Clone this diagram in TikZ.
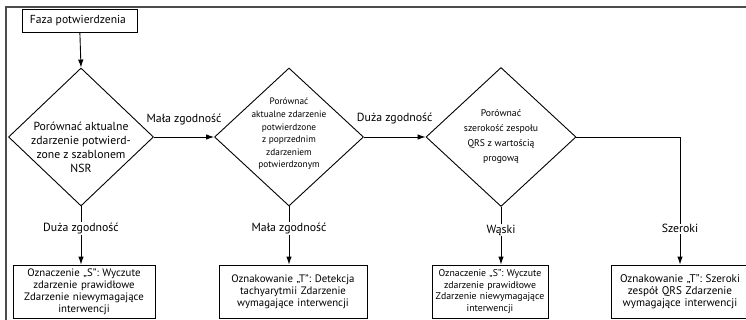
\documentclass[tikz,border=0pt]{standalone}
\usepackage{fontspec}
\setmainfont{PT Sans}
\usetikzlibrary{shapes.geometric, arrows.meta}

\begin{document}
\begin{tikzpicture} [
		x = 1pt,
		y = -1pt,
		box/.style = {
			draw,
			rectangle,
			line width = 0.9pt,
			align = center,
			inner xsep = 1pt,
			inner ysep = 0pt,
			minimum height = 53pt,
			font = \fontsize{10.8}{12}\selectfont,
		},
		decision/.style = {
			draw,
			diamond,
			line width = 0.9pt,
			inner sep = 0pt,
		},
		decision-text/.style = {
			align = center,
			font = \fontsize{11.7}{14}\selectfont,
		},
		line/.style = {
			draw,
			line width = 0.9pt,
			-{Latex[length = 8pt, width = 5.5pt]},
		},
		line-caption/.style = {
			font = \fontsize{11.8}{14}\selectfont,
			fill = white,
			inner sep = 1pt,
		},
	]
	\useasboundingbox (0,0) rectangle (746,320);
	\draw[line width = 1.4pt, black!70] (746,7) -- (6,7) -- (6,320);

	% start
	\node[box, minimum width = 115pt, minimum height = 23pt,
		font = \fontsize{11.6}{14}\selectfont] (phase) at (79.5,21) {
		Faza potwierdzenia
	};

	% decisions
	\node[decision, minimum width = 145pt, minimum height = 138pt] (cmpNSR) at (81,137) {};
	\node[decision-text] (cmpNSRText) at (81,147) {
		Porównać aktualne\\
		zdarzenie potwierd-\\
		zone z szablonem\\
		NSR
	};
	\node[decision, minimum width = 149pt, minimum height = 138pt] (cmpPrev) at (289,137) {};
	\node[decision-text, font = \fontsize{9.3}{12.6}\selectfont] (cmpPrevText) at (289,134) {
		Porównać\\
		aktualne zdarzenie\\
		potwierdzone\\
		z poprzednim\\
		zdarzeniem\\
		potwierdzonym
	};
	\node[decision, minimum width = 150pt, minimum height = 139pt] (cmpQRS) at (501,137) {};
	\node[decision-text, font = \fontsize{9.7}{15}\selectfont] (cmpQRSText) at (501,137) {
		Porównać\\
		szerokość zespołu\\
		QRS z wartością\\
		progową
	};
	\coordinate (wideCorner) at (680,137);

	% results
	\node[box, text width = 140pt] (markS1) at (84,291.5) {
		Oznaczenie „S”: Wyczute\\
		zdarzenie prawidłowe\\
		Zdarzenie niewymagające\\
		interwencji
	};
	\node[box, text width = 146pt] (markT1) at (293,291.5) {
		Oznakowanie „T”: Detekcja\\
		tachyarytmii Zdarzenie\\
		wymagające interwencji
	};
	\node[box, text width = 114pt, font = \fontsize{9.8}{11.5}\selectfont] (markS2) at (490,291.5) {
		Oznaczenie „S”: Wyczute\\
		zdarzenie prawidłowe\\
		Zdarzenie niewymagające\\
		interwencji
	};
	\node[box, text width = 136pt, font = \fontsize{11.1}{12}\selectfont] (markT2) at (680,291.5) {
		Oznakowanie „T”: Szeroki\\
		zespół QRS Zdarzenie\\
		wymagające interwencji
	};

	\begin{scope} [
		every path/.style = line,
		every node/.style = line-caption
		]
		\path (phase) -- (cmpNSR.north);

		\path (cmpNSR.east) -- node[above = 11pt, fill = none] {Mała zgodność} (cmpPrev.west);
		\path (cmpPrev.east) -- node[above = 12pt, fill = none] {Duża zgodność} (cmpQRS.west);

		\path (cmpNSR.south) -- node[pos = 0.38] {Duża zgodność} (cmpNSR.south |- markS1.north);
		\path (cmpPrev.south) -- node[pos = 0.38] {Mała zgodność} (cmpPrev.south |- markT1.north);
		\path (cmpQRS.south) -- node[pos = 0.4] {Wąski} (cmpQRS.south |- markS2.north);
		\path (cmpQRS.east) -- (wideCorner) -- node[pos = 0.72] {Szeroki} (markT2.north);
	\end{scope}
\end{tikzpicture}
\end{document}
